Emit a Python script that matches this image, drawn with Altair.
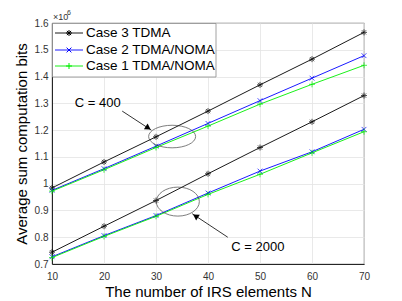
import altair as alt
import pandas as pd

# ---------------- data (values in units of 10^6 bits) ----------------
N = [10, 20, 30, 40, 50, 60, 70]
cases = ["Case 3 TDMA", "Case 2 TDMA/NOMA", "Case 1 TDMA/NOMA"]
colors = ["#000000", "#0000ff", "#00ee00"]

case3_c400 = [0.984, 1.081, 1.175, 1.271, 1.369, 1.465, 1.565]
case2_c400 = [0.975, 1.056, 1.140, 1.225, 1.310, 1.394, 1.478]
case1_c400 = [0.972, 1.052, 1.135, 1.215, 1.297, 1.371, 1.442]
case3_c2000 = [0.744, 0.841, 0.937, 1.037, 1.135, 1.231, 1.329]
case2_c2000 = [0.727, 0.806, 0.881, 0.965, 1.047, 1.119, 1.203]
case1_c2000 = [0.724, 0.803, 0.878, 0.960, 1.035, 1.115, 1.194]

x_ticks = [10, 20, 30, 40, 50, 60, 70]
y_ticks = [0.7, 0.8, 0.9, 1.0, 1.1, 1.2, 1.3, 1.4, 1.5, 1.6]

series = [
    ("Case 3 TDMA", "C=400", case3_c400),
    ("Case 2 TDMA/NOMA", "C=400", case2_c400),
    ("Case 1 TDMA/NOMA", "C=400", case1_c400),
    ("Case 3 TDMA", "C=2000", case3_c2000),
    ("Case 2 TDMA/NOMA", "C=2000", case2_c2000),
    ("Case 1 TDMA/NOMA", "C=2000", case1_c2000),
]
rows = []
for case, c, vals in series:
    for n, v in zip(N, vals):
        rows.append({"N": n, "value": v, "case": case, "sid": case + c})
df = pd.DataFrame(rows)

# annotations (data coordinates)
ell1 = pd.DataFrame({"N": [33.1], "value": [1.176]})
ell2 = pd.DataFrame({"N": [34.2], "value": [0.933]})
arrow1 = pd.DataFrame({"N": [23.5, 29.1], "value": [1.271, 1.200]})
arrow2 = pd.DataFrame({"N": [43.8, 36.95], "value": [0.800, 0.888]})
head1 = pd.DataFrame({"N": [28.5], "value": [1.208]})
head2 = pd.DataFrame({"N": [37.6], "value": [0.879]})
lab1 = pd.DataFrame({"N": [18.8], "value": [1.301], "t": ["C = 400"]})
lab2 = pd.DataFrame({"N": [49.6], "value": [0.765], "t": ["C = 2000"]})

FONT = "Liberation Sans"
AST = "M-1,0L1,0M0,-1L0,1M-0.7,-0.7L0.7,0.7M-0.7,0.7L0.7,-0.7"
XS = "M-0.8,-0.8L0.8,0.8M-0.8,0.8L0.8,-0.8"
PLUS = "M-1,0L1,0M0,-1L0,1"
shapes = [AST, XS, PLUS]

xs = alt.Scale(domain=[10, 70], nice=False, zero=False)
ys = alt.Scale(domain=[0.7, 1.6], nice=False, zero=False)
color_scale = alt.Scale(domain=cases, range=colors)
shape_scale = alt.Scale(domain=cases, range=shapes)

X = alt.X("N:Q", scale=xs,
          axis=alt.Axis(values=x_ticks, title="The number of IRS elements N",
                        grid=True, ticks=False, labelPadding=7, titlePadding=3,
                        labelFontSize=10, titleFontSize=15, labelFlush=False,
                        labelOverlap=False))
Y = alt.Y("value:Q", scale=ys,
          axis=alt.Axis(values=y_ticks, title="Average sum computation bits",
                        grid=True, ticks=False, labelPadding=4, titlePadding=5,
                        labelFontSize=10, titleFontSize=15, labelFlush=False,
                        labelOverlap=False,
                        labelExpr="'' + round(datum.value*10)/10"))

lines = alt.Chart(df).mark_line(strokeWidth=0.9).encode(
    x=X, y=Y,
    color=alt.Color("case:N", scale=color_scale, legend=None),
    detail="sid:N",
)
points = alt.Chart(df).mark_point(filled=False, size=36, strokeWidth=1).encode(
    x=X, y=Y,
    color=alt.Color("case:N", scale=color_scale, legend=None),
    shape=alt.Shape("case:N", scale=shape_scale, legend=None),
)

E1 = "M-1,0A1,0.48,0,1,0,1,0A1,0.48,0,1,0,-1,0"
E2 = "M-1,0A1,0.674,0,1,0,1,0A1,0.674,0,1,0,-1,0"
e1 = alt.Chart(ell1).mark_point(shape=E1, size=2209, filled=False, color="#333",
                                strokeWidth=0.9).encode(x=X, y=Y)
e2 = alt.Chart(ell2).mark_point(shape=E2, size=1849, filled=False, color="#333",
                                strokeWidth=0.9).encode(x=X, y=Y)
a1 = alt.Chart(arrow1).mark_line(color="#000", strokeWidth=0.8).encode(x=X, y=Y)
a2 = alt.Chart(arrow2).mark_line(color="#000", strokeWidth=0.8).encode(x=X, y=Y)
h1 = alt.Chart(head1).mark_point(shape="triangle-right", size=45, filled=True, color="#000",
                                 angle=33, opacity=1).encode(x=X, y=Y)
h2 = alt.Chart(head2).mark_point(shape="triangle-right", size=45, filled=True, color="#000",
                                 angle=213, opacity=1).encode(x=X, y=Y)
t1 = alt.Chart(lab1).mark_text(fontSize=13, font=FONT, color="#000").encode(
    x=X, y=Y, text="t:N")
t2 = alt.Chart(lab2).mark_text(fontSize=13, font=FONT, color="#000").encode(
    x=X, y=Y, text="t:N")

# exponent label
exp1 = alt.Chart(pd.DataFrame({"t": ["×10"]})).mark_text(
    fontSize=9, font=FONT, color="#333", align="left", baseline="alphabetic").encode(
    x=alt.value(1), y=alt.value(-3), text="t:N")
exp2 = alt.Chart(pd.DataFrame({"t": ["6"]})).mark_text(
    fontSize=7, font=FONT, color="#333", align="left", baseline="alphabetic").encode(
    x=alt.value(15), y=alt.value(-8), text="t:N")

# legend box
leg_layers = [
    alt.Chart(pd.DataFrame({"a": [0]})).mark_rect(
        fill="white", stroke="#8c8c8c", strokeWidth=0.8).encode(
        x=alt.value(0.5), x2=alt.value(164), y=alt.value(0.5), y2=alt.value(54))
]
row_y = [10, 27, 43]
for case, col, shp, ry in zip(cases, colors, shapes, row_y):
    d = pd.DataFrame({"case": [case]})
    leg_layers.append(alt.Chart(d).mark_rule(color=col, strokeWidth=0.9).encode(
        x=alt.value(3), x2=alt.value(31), y=alt.value(ry)))
    leg_layers.append(alt.Chart(d).mark_point(shape=shp, size=36, filled=False,
                                              color=col, strokeWidth=1, opacity=1).encode(
        x=alt.value(17), y=alt.value(ry)))
    leg_layers.append(alt.Chart(d).mark_text(fontSize=13.5, font=FONT, color="#000",
                                             align="left", baseline="middle").encode(
        x=alt.value(34), y=alt.value(ry), text="case:N"))

chart = alt.layer(lines, points, e1, e2, a1, a2, h1, h2, t1, t2, exp1, exp2,
                  *leg_layers).properties(
    width=312, height=241,
    autosize=alt.AutoSizeParams(type="none"),
    padding={"left": 44, "top": 15, "right": 30, "bottom": 36},
).configure_view(stroke="#262626", strokeWidth=0.8).configure_axis(
    labelFont=FONT, titleFont=FONT, labelColor="#333", titleColor="#000",
    titleFontWeight="normal", domainColor="#262626", gridColor="#e3e3e3",
    gridWidth=0.8, labelOverlap=False,
)

chart.save("out.html", embed_options={"renderer": "svg", "actions": False})
